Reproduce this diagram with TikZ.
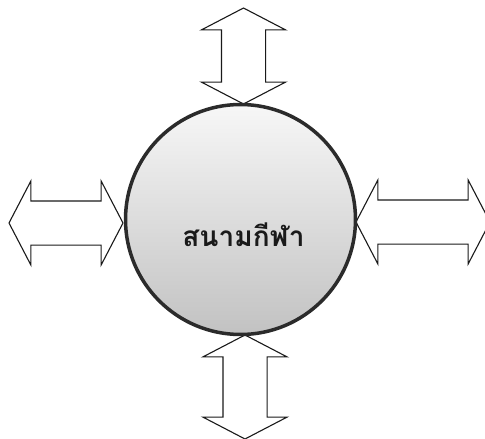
\documentclass[tikz,border=0pt]{standalone}
\usepackage{fontspec}
\newfontfamily\thaifont[Script=Thai]{Loma}
\usetikzlibrary{shapes.arrows,positioning}
\definecolor{rim}{HTML}{2B2B2B}
\definecolor{ink}{HTML}{1A1A1A}
\definecolor{fieldtop}{HTML}{F7F7F7}
\definecolor{fieldbot}{HTML}{C2C2C2}
\tikzset{
  fieldbox/.style={circle, draw=rim, line width=3.5pt, minimum size=230pt,
                   inner sep=0pt, top color=fieldtop, bottom color=fieldbot},
  flowarrow/.style={double arrow, draw=ink, line width=1.1pt, fill=white,
                    inner xsep=0pt, inner ysep=21.5pt, minimum width=83pt,
                    double arrow head extend=20pt, double arrow tip angle=125},
  fieldtext/.style={font=\thaifont\bfseries\fontsize{28}{30}\selectfont, text=ink}}
\begin{document}
\begin{tikzpicture}[x=1pt,y=-1pt]
  \useasboundingbox (0,0) rectangle (485,439);
  % four two-way arrows
  \node[flowarrow, rotate=90, minimum height=96pt] (north) at (243.5,56) {};
  \node[flowarrow, rotate=90, minimum height=104pt] (south) at (245,387) {};
  \node[flowarrow, minimum height=114pt] (west) at (66,223) {};
  \node[flowarrow, minimum height=134pt] (east) at (423,222) {};
  % the field
  \node[fieldbox] (field) at (240.5,219.5) {};
  \node[fieldtext] (name) at ([xshift=3pt,yshift=-15pt]field.center) {สนามกีฬา};
\end{tikzpicture}
\end{document}
